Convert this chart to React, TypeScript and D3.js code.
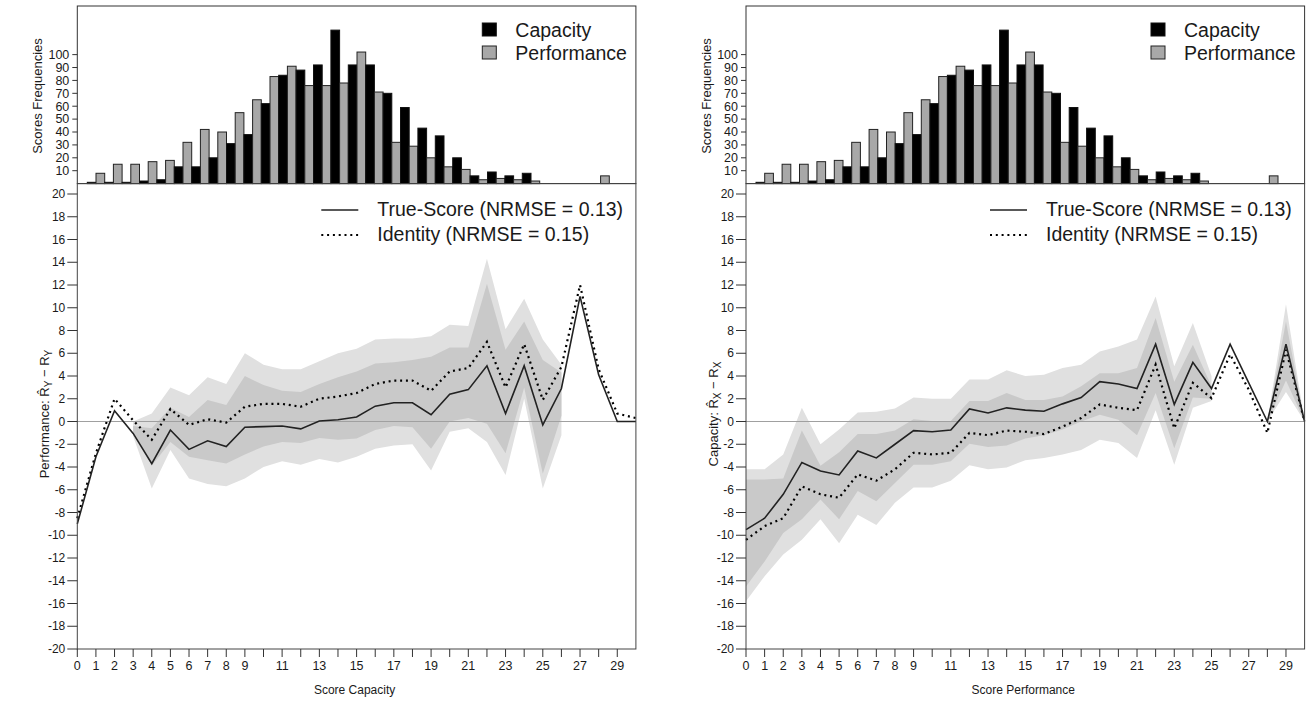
import * as d3 from 'd3';

// score categories (x axis)
const scores = [0, 1, 2, 3, 4, 5, 6, 7, 8, 9, 10, 11, 12, 13, 14, 15, 16, 17, 18, 19, 20, 21, 22, 23, 24, 25, 26, 27, 28, 29, 30];

// histogram frequencies
const capacityFreq = [1, 1, 1, 2, 3, 13, 13, 20, 31, 38, 62, 84, 88, 92, 119, 92, 92, 70, 59, 43, 37, 20, 6, 9, 6, 8, 0, 0, 0, 0, 0];
const performanceFreq = [8, 15, 15, 17, 18, 32, 42, 40, 55, 65, 83, 91, 76, 76, 78, 102, 71, 32, 29, 20, 13, 11, 3, 4, 3, 2, 0, 0, 0, 6, 0];

const histTicks = [10, 20, 30, 40, 50, 60, 70, 80, 90, 100];
const yTicks = [-20, -18, -16, -14, -12, -10, -8, -6, -4, -2, 0, 2, 4, 6, 8, 10, 12, 14, 16, 18, 20];
const xLabelled = [0, 1, 2, 3, 4, 5, 6, 7, 8, 9, 11, 13, 15, 17, 19, 21, 23, 25, 27, 29];

// left panel: performance residual by capacity score
const leftTrue = [-9, -3.1, 0.95, -1.05, -3.7, -0.75, -2.45, -1.7, -2.2, -0.5, -0.45, -0.4, -0.65, 0.05, 0.15, 0.4, 1.35, 1.65, 1.65, 0.6, 2.4, 2.8, 4.9, 0.7, 4.9, -0.3, 2.9, 11, 4.1, 0, 0];
const leftIdentity = [-8.5, -2.8, 2.0, 0.1, -1.6, 1.1, -0.3, 0.2, -0.1, 1.3, 1.55, 1.55, 1.3, 2.0, 2.2, 2.5, 3.3, 3.6, 3.6, 2.7, 4.4, 4.7, 7.0, 3.0, 6.8, 1.9, 4.8, 12.0, 4.6, 0.7, 0.3];
const leftLightHi = [null, null, null, 0.0, 0.7, 3.0, 2.3, 3.9, 3.3, 6.0, 5.0, 4.6, 4.6, 5.3, 6.0, 6.4, 7.2, 7.3, 7.3, 7.5, 8.5, 8.4, 14.3, 8.1, 10.8, 7.2, 5.0, null, null, null, null];
const leftDarkHi = [null, null, null, -0.4, -0.6, 1.2, 0.4, 1.9, 1.45, 4.0, 3.2, 2.7, 2.6, 3.3, 3.9, 4.4, 5.1, 5.2, 5.4, 5.7, 6.5, 6.5, 12.1, 6.3, 8.8, 5.4, 4.3, null, null, null, null];
const leftDarkLo = [null, null, null, -1.0, -3.9, -1.8, -3.1, -3.4, -3.7, -2.9, -2.2, -1.8, -1.9, -1.45, -1.6, -1.5, -0.75, -0.4, -0.5, -2.4, 0.0, 0.3, -0.2, -2.8, 3.0, -4.6, 0.5, null, null, null, null];
const leftLightLo = [null, null, null, -1.3, -5.9, -2.5, -5.0, -5.5, -5.7, -5.0, -4.0, -3.5, -3.8, -3.3, -3.6, -3.1, -2.4, -2.1, -2.0, -4.3, -0.9, -0.6, -1.8, -4.7, 2.0, -5.9, -1.2, null, null, null, null];

// right panel: capacity residual by performance score
const rightTrue = [-9.5, -8.5, -6.4, -3.6, -4.35, -4.7, -2.6, -3.2, -2.0, -0.8, -0.9, -0.75, 1.1, 0.75, 1.2, 1.0, 0.9, 1.55, 2.1, 3.5, 3.3, 2.9, 6.8, 1.5, 5.2, 2.9, 6.8, 3.4, 0, 6.8, 0];
const rightIdentity = [-10.4, -9.2, -8.5, -5.7, -6.4, -6.7, -4.65, -5.2, -4.2, -2.75, -2.9, -2.75, -1.0, -1.2, -0.8, -0.9, -1.1, -0.45, 0.3, 1.5, 1.2, 1.0, 5.0, -0.6, 3.4, 2.05, 5.9, 2.8, -1.0, 6.3, 0];
const rightLightHi = [-4.2, -4.2, -2.9, 1.2, -2.0, -0.7, 0.8, 0.85, 1.15, 2.1, 2.0, 2.0, 3.7, 3.7, 4.5, 4.0, 4.1, 4.7, 5.0, 6.15, 6.6, 7.2, 11.0, 4.85, 8.65, 4.0, null, null, 0, 10.3, 0];
const rightDarkHi = [-5.1, -5.1, -5.0, -0.8, -3.9, -2.7, -1.1, -1.1, -0.8, 0.2, 0.05, 0.05, 1.8, 1.8, 2.5, 1.9, 1.9, 2.2, 3.1, 4.25, 4.25, 4.7, 9.1, 3.5, 6.75, 3.1, null, null, 0, 8.8, 0];
const rightDarkLo = [-14.5, -12.3, -9.8, -8.6, -6.85, -8.6, -6.1, -7.0, -5.4, -3.8, -3.8, -3.5, -1.95, -2.25, -2.1, -1.5, -1.2, -0.7, 0, 0.6, 0.15, -1.2, 2.5, -2.35, 2.1, 2.0, null, null, 0, 3.6, 0];
const rightLightLo = [-15.8, -13.6, -11.7, -10.4, -8.6, -10.7, -8.2, -9.1, -7.15, -5.8, -5.8, -5.2, -3.85, -4.2, -4.05, -3.4, -3.2, -2.9, -2.5, -1.6, -1.9, -3.2, 1.0, -3.8, 1.2, 1.8, null, null, 0, 2.6, 0];

const FONT = '"Liberation Sans", Arial, sans-serif';
const PW = 558.6; // plot width

const panels = [
  {
    x0: 77.3, xTitle: 'Score Capacity', yName: 'Performance', sub: 'Y',
    trueScore: leftTrue, identity: leftIdentity,
    lightHi: leftLightHi, lightLo: leftLightLo, darkHi: leftDarkHi, darkLo: leftDarkLo,
  },
  {
    x0: 746, xTitle: 'Score Performance', yName: 'Capacity', sub: 'X',
    trueScore: rightTrue, identity: rightIdentity,
    lightHi: rightLightHi, lightLo: rightLightLo, darkHi: rightDarkHi, darkLo: rightDarkLo,
  },
];

function Panel({ p }) {
  const x = d3.scaleLinear().domain([0, 30]).range([p.x0, p.x0 + PW]);
  const y = d3.scaleLinear().domain([-20, 20]).range([649, 194]);
  const yh = d3.scaleLinear().domain([0, 137.7]).range([183.6, 6]);
  const band = d3.scaleBand().domain(scores.map(String)).range([p.x0 + 10, p.x0 + 549.4]);
  const bw = band.bandwidth() / 2;

  const area = (hi, lo) =>
    d3.area()
      .defined((_d, i) => hi[i] != null)
      .x((_d, i) => x(scores[i]))
      .y0((_d, i) => y(lo[i]))
      .y1((_d, i) => y(hi[i]))(scores);
  const line = (vals) =>
    d3.line()
      .x((_d, i) => x(scores[i]))
      .y((_d, i) => y(vals[i]))(scores);

  const midY = 414;
  return (
    <g fontFamily={FONT} fill="#1a1a1a">
      {/* histogram */}
      {scores.map((s, i) => (
        <g key={'b' + s}>
          <rect x={band(String(s))} y={yh(capacityFreq[i])} width={bw} height={yh(0) - yh(capacityFreq[i])}
            fill="#000" stroke="#111" strokeWidth={1} />
          <rect x={band(String(s)) + bw} y={yh(performanceFreq[i])} width={bw} height={yh(0) - yh(performanceFreq[i])}
            fill="#a8a8a8" stroke="#222" strokeWidth={1} />
        </g>
      ))}
      <rect x={p.x0} y={6} width={PW} height={yh(0) - 6} fill="none" stroke="#333" strokeWidth={1} />
      {histTicks.map((t) => (
        <g key={'h' + t}>
          <line x1={p.x0 - 5} x2={p.x0} y1={yh(t)} y2={yh(t)} stroke="#333" />
          <text x={p.x0 - 8} y={yh(t)} dy="0.35em" textAnchor="end" fontSize={12.5}>{t}</text>
        </g>
      ))}
      <text transform={`translate(${p.x0 - 35},96) rotate(-90)`} textAnchor="middle" fontSize={13}>Scores Frequencies</text>
      <rect x={p.x0 + 405} y={23} width={14} height={13} fill="#000" stroke="#111" />
      <rect x={p.x0 + 405} y={46} width={14} height={13} fill="#a8a8a8" stroke="#222" />
      <text x={p.x0 + 438} y={37} fontSize={19.5}>Capacity</text>
      <text x={p.x0 + 438} y={60} fontSize={19.5}>Performance</text>

      {/* residual plot */}
      <path d={area(p.lightHi, p.lightLo)} fill="#e0e0e0" />
      <path d={area(p.darkHi, p.darkLo)} fill="#c9c9c9" />
      <line x1={x(0)} x2={x(30)} y1={y(0)} y2={y(0)} stroke="#a0a0a0" strokeWidth={1.2} />
      <path d={line(p.identity)} fill="none" stroke="#000" strokeWidth={2.2} strokeDasharray="2 3.8" />
      <path d={line(p.trueScore)} fill="none" stroke="#222" strokeWidth={1.6} />
      <rect x={p.x0} y={183.6} width={PW} height={649 - 183.6} fill="none" stroke="#444" strokeWidth={1} />
      {yTicks.map((t) => (
        <g key={'y' + t}>
          <line x1={p.x0 - 10} x2={p.x0} y1={y(t)} y2={y(t)} stroke="#333" />
          <text x={p.x0 - 12} y={y(t)} dy="0.35em" textAnchor="end" fontSize={12}>{t}</text>
        </g>
      ))}
      {scores.slice(0, 30).map((s) => (
        <line key={'xt' + s} x1={x(s)} x2={x(s)} y1={649} y2={657} stroke="#333" />
      ))}
      {xLabelled.map((s) => (
        <text key={'xl' + s} x={x(s)} y={670} textAnchor="middle" fontSize={12.5}>{s}</text>
      ))}
      <text x={p.x0 + PW / 2 - 2} y={694} textAnchor="middle" fontSize={12}>{p.xTitle}</text>
      <text transform={`translate(${p.x0 - 28},${midY}) rotate(-90)`} textAnchor="middle" fontSize={13}>
        {p.yName}: R{'\u0302'}<tspan dy={3} fontSize={10}>{p.sub}</tspan><tspan dy={-3} fontSize={13}> {'\u2212'} R</tspan><tspan dy={3} fontSize={10}>{p.sub}</tspan>
      </text>

      {/* legend */}
      <line x1={p.x0 + 244} x2={p.x0 + 281} y1={210} y2={210} stroke="#222" strokeWidth={1.6} />
      <line x1={p.x0 + 244} x2={p.x0 + 281} y1={235} y2={235} stroke="#000" strokeWidth={2.2} strokeDasharray="2 3.8" />
      <text x={p.x0 + 300} y={216} fontSize={19.5}>True-Score (NRMSE = 0.13)</text>
      <text x={p.x0 + 300} y={241} fontSize={19.5}>Identity (NRMSE = 0.15)</text>
    </g>
  );
}

export default function App() {
  return (
    <svg width={1312} height={703} style={{ position: 'absolute', left: 0, top: 0, background: '#fff' }}>
      <rect width={1312} height={703} fill="#fff" />
      {panels.map((p) => (
        <Panel key={p.yName} p={p} />
      ))}
    </svg>
  );
}
